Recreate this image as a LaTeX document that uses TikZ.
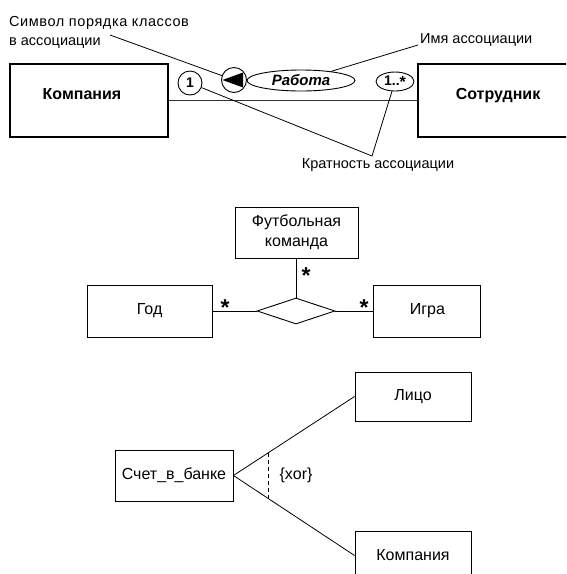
\documentclass[tikz,border=0pt]{standalone}
\usepackage{fontspec}
\setmainfont{Liberation Sans}
\usetikzlibrary{
    arrows.meta,
    positioning,
    calc,
    shapes.geometric
}
\tikzset{
  cls/.style   = {draw, line width=0.9pt, align=center, inner sep=0pt,
                  font=\fontsize{16}{20}\selectfont},
  box/.style   = {draw, line width=1.1pt, inner sep=0pt},
  btxt/.style  = {inner sep=0pt, font=\fontsize{16}{20}\selectfont\bfseries},
  mult/.style  = {draw, line width=0.9pt, inner sep=0pt,
                  font=\fontsize{14}{15}\selectfont\bfseries},
  note/.style  = {inner sep=0pt, align=left, font=\fontsize{14.5}{19}\selectfont},
  lead/.style  = {line width=0.8pt},
  assoc/.style = {line width=0.8pt},
  star/.style  = {inner sep=0pt, yshift=-4.5pt, font=\fontsize{23}{23}\selectfont\bfseries}
}

\begin{document}
\begin{tikzpicture}[x=1pt,y=-1pt]
  \useasboundingbox (0,0) rectangle (566,574);
  \clip (0,0) rectangle (566,574);

  % named association
  \node[box, minimum width=158pt, minimum height=73pt] (K) at (89,100.5) {};
  \node[btxt] (Kt) at (82,94) {Компания};
  \node[box, minimum width=158pt, minimum height=73pt] (S) at (497,100.5) {};
  \node[btxt] (St) at (498,96) {Сотрудник};
  \draw[assoc, line width=1.2pt, black!80] (K.east) -- (S.west);

  \node[mult, circle, minimum size=24pt] (one) at (190,83) {1};
  \node[mult, circle, minimum size=25pt] (ord) at (234,80) {};
  \fill (222.5,80) -- (243,72.5) -- (243,87.5) -- cycle;
  \node[mult, ellipse, minimum width=108pt, minimum height=21pt,
        font=\fontsize{15}{15}\selectfont\bfseries\itshape] (name) at (301,80.5) {Работа};
  \node[mult, ellipse, minimum width=38pt, minimum height=19pt] (many) at (395,81.5)
        {1..\raisebox{-2.5pt}{\fontsize{16}{16}\selectfont*}};

  \node[note, anchor=north west] (ordt) at (9,16.5)
        {{\addfontfeature{LetterSpace=4}Символ порядка классов}\\в ассоциации};
  \node[note, anchor=west] (namet) at (420,40) {Имя ассоциации};
  \node[note] (multt) at (378,165) {Кратность ассоциации};
  \coordinate (ordp) at (110,35);
  \coordinate (namep) at (418,45);
  \coordinate (kv) at (372,156);
  \draw[lead] (ordp) -- (ord);
  \draw[lead] (namep) -- (name);
  \draw[lead] (one) -- (kv) -- (many);

  % n-ary association
  \node[cls, minimum width=123pt, minimum height=51pt] (team) at (296.5,232.5) {Футбольная\\команда};
  \node[draw, line width=0.9pt, diamond, aspect=3, inner sep=0pt,
        minimum width=78pt, minimum height=26pt] (rel) at (296,311) {};
  \node[cls, minimum width=125pt, minimum height=52pt, left=44pt of rel] (year) {Год};
  \node[cls, minimum width=107pt, minimum height=52pt, right=38pt of rel] (game) {Игра};
  \draw[assoc] (year) -- (rel) -- (game);
  \draw[assoc] (team.south -| rel.north) -- (rel.north);
  \node[star] (s1) at (225,303) {*};
  \node[star] (s2) at (364,303) {*};
  \node[star] (s3) at (306,271) {*};

  % xor constraint
  \node[cls, minimum width=118pt, minimum height=51pt] (acct) at (174,475.5) {Счет\_в\_банке};
  \node[cls, minimum width=116pt, minimum height=49pt] (pers) at (413,396.5) {Лицо};
  \node[cls, minimum width=116pt, minimum height=49pt] (comp) at (413,555.5) {Компания};
  \draw[assoc] (acct.east) -- (pers.west);
  \draw[assoc] (acct.east) -- (comp.west);
  \coordinate (xa) at ($(acct.east)!0.287!(pers.west)$);
  \coordinate (xb) at ($(acct.east)!0.287!(comp.west)$);
  \draw[dashed, dash pattern=on 4pt off 3pt, line width=0.9pt] (xa) -- (xb);
  \node[inner sep=0pt, font=\fontsize{16}{16}\selectfont] (xor) at (296,475) {\{xor\}};
\end{tikzpicture}
\end{document}
